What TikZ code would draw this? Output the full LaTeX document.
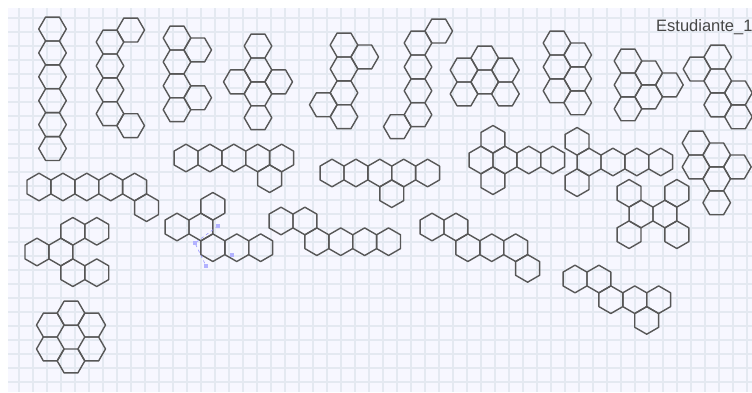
\documentclass[tikz,border=0pt]{standalone}
\usepackage{fontspec}
\setsansfont{Liberation Sans}

\definecolor{paperline}{RGB}{228,233,241}
\newcommand{\hexr}{13.8}
\newcommand{\flathex}[2]{\draw[hexline] ({#1},{#2}) +(0:\hexr) -- +(60:\hexr) -- +(120:\hexr) -- +(180:\hexr) -- +(240:\hexr) -- +(300:\hexr) -- cycle;}
\newcommand{\pointhex}[2]{\draw[hexline] ({#1},{#2}) +(30:\hexr) -- +(90:\hexr) -- +(150:\hexr) -- +(210:\hexr) -- +(270:\hexr) -- +(330:\hexr) -- cycle;}

\begin{document}
\begin{tikzpicture}[x=1pt, y=-1pt,
	hexline/.style={draw=black!66, line width=1.4pt, line join=round},
	gridline/.style={draw=paperline, line width=1.3pt}]
	\useasboundingbox (0,0) rectangle (752,392);
	\fill[white] (0,0) rectangle (752,392);
	\fill[white!97!blue] (8,8) rectangle (752,392);
	\foreach \g in {0,...,52} \draw[gridline] ({19+\g*14},8) -- ({19+\g*14},392);
	\foreach \g in {0,...,26} \draw[gridline] (8,{18+\g*14}) -- (752,{18+\g*14});

	\foreach \a/\b in {0/0, 0/1, 0/2, 0/3, 0/4, 0/5} {\flathex{52.5+\a*20.7}{29+\b*23.9}}
	\foreach \a/\b in {0/0, 0/1, 0/2, 0/3, 1/-0.5, 1/3.5} {\flathex{110+\a*20.7}{42+\b*23.9}}
	\foreach \a/\b in {0/0, 0/1, 0/2, 0/3, 1/0.5, 1/2.5} {\flathex{177+\a*20.7}{38+\b*23.9}}
	\foreach \a/\b in {0/0, 0/1, 0/2, 0/3, -1/1.5, 1/1.5} {\flathex{258+\a*20.7}{46+\b*23.9}}
	\foreach \a/\b in {0/0, 0/1, 0/2, 0/3, 1/0.5, -1/2.5} {\flathex{344+\a*20.7}{45+\b*23.9}}
	\foreach \a/\b in {0/0, 0/1, 0/2, 0/3, 1/-0.5, -1/3.5} {\flathex{418+\a*20.7}{43+\b*23.9}}
	\foreach \a/\b in {0/0, 0/1, 1/-0.5, 1/0.5, 2/0, 2/1} {\flathex{464+\a*20.7}{70+\b*23.9}}
	\foreach \a/\b in {0/0, 0/1, 0/2, 1/0.5, 1/1.5, 1/2.5} {\flathex{557+\a*20.7}{43+\b*23.9}}
	\foreach \a/\b in {0/0, 0/1, 0/2, 1/0.5, 1/1.5, 2/1} {\flathex{628+\a*20.7}{61+\b*23.9}}
	\foreach \a/\b in {0/0, 1/-0.5, 1/0.5, 1/1.5, 2/1, 2/2} {\flathex{697+\a*20.7}{69+\b*23.9}}
	\foreach \a/\b in {0/0, 0/1, 1/0.5, 1/1.5, 1/2.5, 2/1} {\flathex{696+\a*20.7}{143+\b*23.9}}
	\foreach \a/\b in {0/-1, 0/1, -1/-0.5, -1/0.5, 1/-0.5, 1/0.5} {\flathex{71+\a*20.7}{337+\b*23.9}}

	\foreach \a/\b in {0/0, 1/0, 2/0, 3/0, 4/0, 3.5/1} {\pointhex{186+\a*23.9}{158+\b*20.7}}
	\foreach \a/\b in {0/0, 1/0, 2/0, 3/0, 4/0, 4.5/1} {\pointhex{39+\a*23.9}{187+\b*20.7}}
	\foreach \a/\b in {0/0, 1/0, 1.5/-1, 2.5/-1, 1.5/1, 2.5/1} {\pointhex{37+\a*23.9}{252+\b*20.7}}
	\foreach \a/\b in {0/0, 1/0, 1.5/-1, 1.5/1, 2.5/1, 3.5/1} {\pointhex{177+\a*23.9}{227+\b*20.7}}
	\foreach \a/\b in {0/0, 1/0, 2/0, 3/0, 4/0, 2.5/1} {\pointhex{332+\a*23.9}{173+\b*20.7}}
	\foreach \a/\b in {0/0, 1/0, 1.5/1, 2.5/1, 3.5/1, 4.5/1} {\pointhex{281+\a*23.9}{221+\b*20.7}}
	\foreach \a/\b in {0/0, 1/0, 1.5/1, 2.5/1, 3.5/1, 4/2} {\pointhex{432+\a*23.9}{227+\b*20.7}}
	\foreach \a/\b in {0/0, 1/0, 2/0, 3/0, 0.5/-1, 0.5/1} {\pointhex{481+\a*23.9}{160+\b*20.7}}
	\foreach \a/\b in {0/0, 1/0, 2/0, 3/0, -0.5/-1, -0.5/1} {\pointhex{589+\a*23.9}{162+\b*20.7}}
	\foreach \a/\b in {0/0, 1/0, -0.5/-1, -0.5/1, 1.5/-1, 1.5/1} {\pointhex{641+\a*23.9}{214+\b*20.7}}
	\foreach \a/\b in {0/0, 1/0, 1.5/1, 2.5/1, 3.5/1, 3/2} {\pointhex{575+\a*23.9}{279+\b*20.7}}

	\draw[blue!40, dashed, line width=0.6pt] (218,226) -- (195,243) -- (206,266);
	\foreach \x/\y in {218/226, 195/243, 206/266, 232/255} \fill[blue!30] ({\x-1.8},{\y-1.8}) rectangle ({\x+1.8},{\y+1.8});

	\node[anchor=base west, inner sep=0pt, text=black!72, font=\sffamily\fontsize{16.5}{18}\selectfont] (tag) at (656,31) {Estudiante\_1};
\end{tikzpicture}
\end{document}
